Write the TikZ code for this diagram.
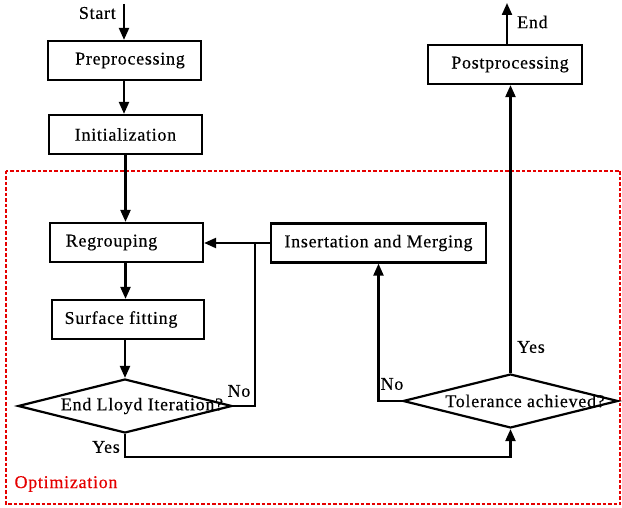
\documentclass[tikz,border=0pt]{standalone}
\usepackage{fontspec}
\setmainfont[LetterSpace=4,FakeBold=0.4]{Liberation Serif}
\usetikzlibrary{arrows.meta,shapes.geometric}
\tikzset{
  box/.style={draw, line width=2.2pt, minimum height=39pt, inner sep=0pt, font=\fontsize{18}{21}\selectfont},
  dia/.style={draw, diamond, line width=2.2pt, minimum width=214pt, minimum height=54pt, inner sep=0pt, font=\fontsize{18}{21}\selectfont},
  conn/.style={line width=2.2pt},
  arr/.style={conn, -{Triangle[length=12pt,width=10pt]}},
  lab/.style={font=\fontsize{18}{21}\selectfont, inner sep=0pt},
  opt/.style={draw=red!90!black, line width=1.4pt, dash pattern=on 3.5pt off 2pt}
}
\begin{document}
\begin{tikzpicture}[x=1pt,y=-1pt]
\useasboundingbox (0,0) rectangle (622,508);
\draw[opt] (6,171) rectangle (620,504);
\node[lab, text=red!90!black] (optlab) at (66,484) {Optimization};

\node[box, minimum width=153pt] (pre) at (124.5,60.5) {\hspace*{11pt}Preprocessing};
\node[box, minimum width=153pt] (init) at (125.5,134.5) {Initialization};
\node[box, minimum width=153pt] (reg) at (126.5,242.5) {Regrouping\hspace*{30pt}};
\node[box, minimum width=152pt] (surf) at (128,319.5) {Surface fitting\hspace*{14pt}};
\node[box, minimum width=215pt] (ins) at (378.5,243) {Insertation and Merging};
\node[box, minimum width=154pt] (post) at (505,64.5) {\hspace*{10pt}Postprocessing};

\node[dia] (d1) at (125,406) {\makebox[0pt]{\hspace*{34pt}End Lloyd Iteration?}};
\node[dia, minimum width=215pt] (d2) at (510.5,401) {\makebox[0pt]{\hspace*{29pt}Tolerance achieved?}};

\coordinate (start) at (124,4);
\coordinate (endpt) at (507,3);
\coordinate (junc) at (255,243);
\coordinate (ybend) at (125,457);

\node[lab, anchor=east] (startlab) at (116,13) {Start};
\node[lab, anchor=west] (endlab) at (517,22) {End};
\node[lab] (no1) at (239,391) {No};
\node[lab] (yes1) at (106,447) {Yes};
\node[lab] (no2) at (392,384) {No};
\node[lab] (yes2) at (531,347) {Yes};

\draw[arr] (start) -- (start |- pre.north);
\draw[arr] (pre.south -| start) -- (start |- init.north);
\draw[arr] (init.south) -- (init.south |- reg.north);
\draw[arr] (reg.south -| init.south) -- (init.south |- surf.north);
\draw[arr] (surf.south -| d1.north) -- (d1.north);
\draw[arr] (ins.west) -- (ins.west -| reg.east);
\draw[conn] (d1.east) -| (junc);
\draw[arr] (d1.south) -- (ybend) -| (d2.south);
\draw[arr] (d2.west) -| (ins.south);
\draw[arr] (d2.north) -- (d2.north |- post.south);
\draw[arr] (post.north -| endpt) -- (endpt);
\end{tikzpicture}
\end{document}
